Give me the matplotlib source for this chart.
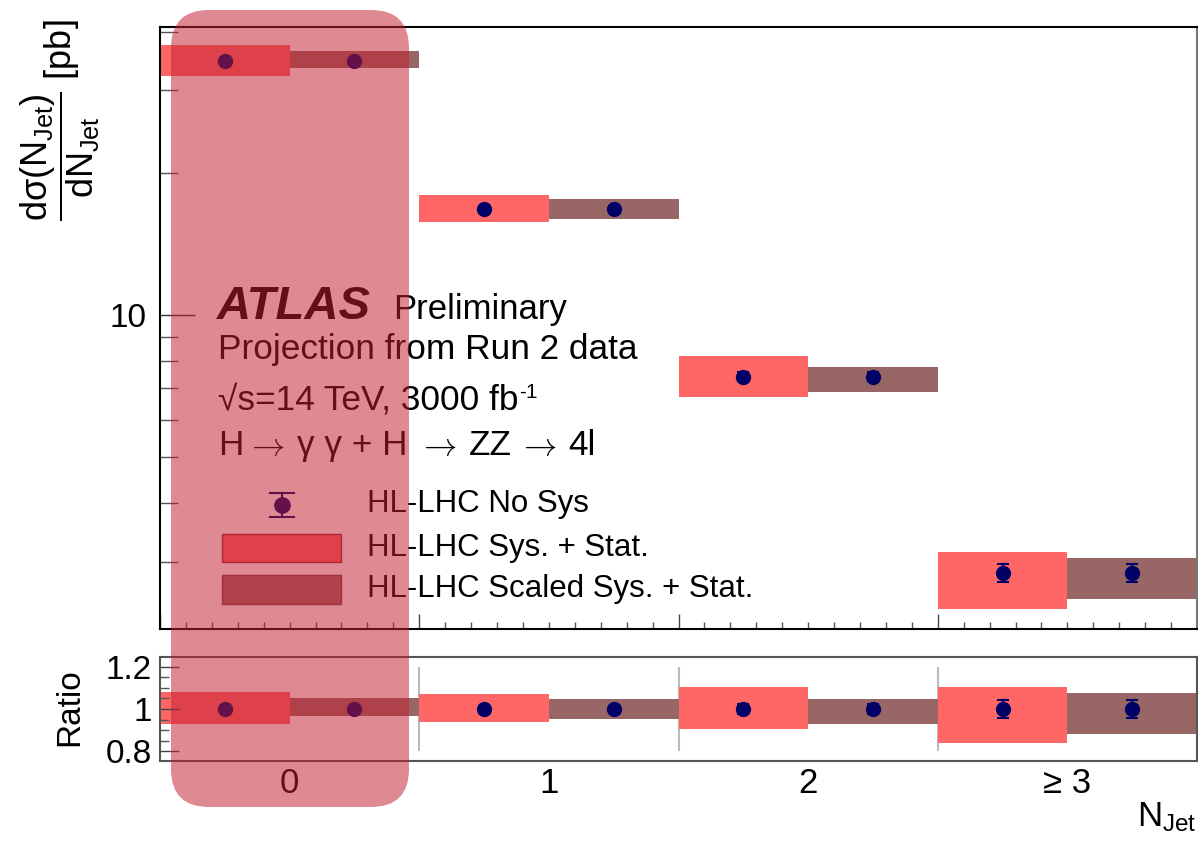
import matplotlib
matplotlib.use('Agg')
import matplotlib.pyplot as plt
import numpy as np
from matplotlib.patches import FancyBboxPatch, Rectangle
from matplotlib.lines import Line2D
from matplotlib.ticker import FixedLocator, MultipleLocator, NullFormatter, FixedFormatter

plt.rcParams['font.family'] = ['Liberation Sans', 'DejaVu Sans']
plt.rcParams['mathtext.fontset'] = 'custom'
plt.rcParams['mathtext.rm'] = 'Liberation Sans'
plt.rcParams['mathtext.it'] = 'Liberation Sans'
plt.rcParams['mathtext.bf'] = 'Liberation Sans:bold'

# ---------------- data ----------------
njet_centers = [0, 1, 2, 3]
njet_labels = ['0', '1', '2', '\u2265 3']
xsec = [34.6, 16.8, 7.40, 2.84]                 # pb
nosys_rel_err = [0.010, 0.015, 0.022, 0.043]
sys_up = [1.081, 1.071, 1.105, 1.105]
sys_dn = [0.929, 0.938, 0.905, 0.838]
scaled_up = [1.052, 1.048, 1.048, 1.076]
scaled_dn = [0.967, 0.952, 0.929, 0.881]

light = '#FF6666'
dark = '#996666'
navy = '#000066'

W, H = 1198, 842
fig = plt.figure(figsize=(W / 100, H / 100), dpi=100)


def axrect(l, t, r, b):
    return [l / W, 1 - b / H, (r - l) / W, (b - t) / H]


ax = fig.add_axes(axrect(160, 27, 1197, 629))
axr = fig.add_axes(axrect(160, 657, 1197, 761))

c = np.array(njet_centers, float)
xs = np.array(xsec)
err = np.array(nosys_rel_err)
su, sd = np.array(sys_up), np.array(sys_dn)
cu, cd = np.array(scaled_up), np.array(scaled_dn)

# ---------------- upper panel ----------------
ax.bar(c - 0.5, xs * (su - sd), bottom=xs * sd, width=0.5, align='edge',
       color=light, lw=0, zorder=1)
ax.bar(c, xs * (cu - cd), bottom=xs * cd, width=0.5, align='edge',
       color=dark, lw=0, zorder=1)
for off in (-0.25, 0.25):
    ax.errorbar(c + off, xs, yerr=xs * err, fmt='o', color=navy, ms=10,
                elinewidth=1.5, capsize=4, capthick=1.5, zorder=3)
ax.set_yscale('log')
ax.set_ylim(2.158, 40.9)
ax.set_xlim(-0.5, 3.5)
ax.yaxis.set_major_locator(FixedLocator([10]))
ax.yaxis.set_major_formatter(FixedFormatter(['10']))
ax.yaxis.set_minor_locator(FixedLocator([3, 4, 5, 6, 7, 8, 9, 20, 30, 40]))
ax.yaxis.set_minor_formatter(NullFormatter())
ax.xaxis.set_major_locator(FixedLocator(list(c - 0.5) + [c[-1] + 0.5]))
ax.xaxis.set_minor_locator(MultipleLocator(0.1))
ax.xaxis.set_major_formatter(NullFormatter())
ax.tick_params(axis='y', which='major', direction='in', length=25, width=1,
               color='#333333', labelsize=24, pad=10, right=False)
ax.tick_params(axis='y', which='minor', direction='in', length=13, width=1,
               color='#555555', right=False)
ax.tick_params(axis='x', which='major', direction='in', length=11, width=1,
               color='#444444', top=False, labelbottom=False)
ax.tick_params(axis='x', which='minor', direction='in', length=5, width=1,
               color='#555555', top=False)
for s in ('left', 'top', 'bottom'):
    ax.spines[s].set_color('black')
    ax.spines[s].set_linewidth(1.5)
ax.spines['right'].set_color('#777777')
ax.spines['right'].set_linewidth(1.5)

# ---------------- ratio panel ----------------
axr.bar(c - 0.5, su - sd, bottom=sd, width=0.5, align='edge', color=light, lw=0, zorder=1)
axr.bar(c, cu - cd, bottom=cd, width=0.5, align='edge', color=dark, lw=0, zorder=1)
ones = np.ones_like(c)
for off in (-0.25, 0.25):
    axr.errorbar(c + off, ones, yerr=err, fmt='o', color=navy, ms=10,
                 elinewidth=1.5, capsize=4, capthick=1.5, zorder=3)
axr.vlines(c[:-1] + 0.5, 0.8, 1.2, color='#BBBBBB', lw=1.5, zorder=0.5)
axr.set_xlim(-0.5, 3.5)
axr.set_ylim(0.7524, 1.2476)
axr.yaxis.set_major_locator(FixedLocator([0.8, 1.0, 1.2]))
axr.yaxis.set_major_formatter(FixedFormatter(['0.8', '1', '1.2']))
axr.yaxis.set_minor_locator(MultipleLocator(0.05))
axr.yaxis.set_minor_formatter(NullFormatter())
axr.set_xticks(c)
axr.set_xticklabels(njet_labels)
axr.tick_params(axis='x', which='both', length=0, labelsize=25, pad=4)
axr.tick_params(axis='y', which='major', direction='in', length=14, width=1,
                color='#444444', labelsize=24, pad=6)
axr.tick_params(axis='y', which='minor', direction='in', length=6.5, width=1,
                color='#555555')
for s in axr.spines.values():
    s.set_color('#555555')
    s.set_linewidth(1.5)

# ---------------- axis titles ----------------
fig.text(60 / W, 1 - 120 / H, r'$\dfrac{d\sigma(N_{Jet})}{dN_{Jet}}$ [pb]',
         rotation=90, ha='center', va='center', fontsize=26)
fig.text(70 / W, 1 - 707 / H, 'Ratio', rotation=90, ha='center', va='center',
         fontsize=24)
fig.text(1196 / W, 1 - 826 / H, r'$N_{Jet}$', ha='right', va='baseline',
         fontsize=25)

# ---------------- overlay layer (pixel coordinates) ----------------
ov = fig.add_axes([0, 0, 1, 1], zorder=10)
ov.set_xlim(0, W)
ov.set_ylim(H, 0)
ov.axis('off')
ov.patch.set_visible(False)

ov.text(217, 319, 'ATLAS', fontsize=34, fontweight='bold', fontstyle='italic',
        va='baseline', ha='left', zorder=2)
ov.text(393, 319, 'Preliminary', fontsize=25, va='baseline', ha='left', zorder=2)
ov.text(218, 359, 'Projection from Run 2 data', fontsize=25.4, va='baseline',
        ha='left', zorder=2)
t_lumi = ov.text(218, 410, '\u221as=14 TeV, 3000 fb', fontsize=25.4,
                 va='baseline', ha='left', zorder=2)

# decay chain line, arrows drawn with the Computer Modern arrow (thin, curved head)
segments = [(218, 'H', False), (246, r'$\rightarrow$', True), (297, '\u03b3 \u03b3 + H', False),
            (418, r'$\rightarrow$', True), (469, 'ZZ', False), (518, r'$\rightarrow$', True),
            (568, '4l', False)]
for x0, s, is_arrow in segments:
    if is_arrow:
        ov.text(x0, 455, s, fontsize=24, math_fontfamily='cm', va='baseline',
                ha='left', zorder=2)
    else:
        ov.text(x0, 455, s, fontsize=25.4, va='baseline', ha='left', zorder=2)

# legend
ov.add_line(Line2D([282, 282], [493, 517], color=navy, lw=1.5, zorder=2))
ov.add_line(Line2D([270, 294], [493, 493], color=navy, lw=1.5, zorder=2))
ov.add_line(Line2D([270, 294], [517, 517], color=navy, lw=1.5, zorder=2))
ov.plot([282], [505], 'o', color=navy, ms=11, zorder=3)
ov.text(367, 512, 'HL-LHC No Sys', fontsize=22.5, va='baseline', ha='left', zorder=2)
ov.add_patch(Rectangle((222, 534), 119, 28, fc=light, ec='#993333', lw=1, zorder=2))
ov.text(367, 556, 'HL-LHC Sys. + Stat.', fontsize=22.5, va='baseline', ha='left', zorder=2)
ov.add_patch(Rectangle((222, 575), 119, 29, fc=dark, ec='#774444', lw=1, zorder=2))
ov.text(367, 597, 'HL-LHC Scaled Sys. + Stat.', fontsize=22.5, va='baseline',
        ha='left', zorder=2)

# highlight box over the 0-jet bin
ov.add_patch(FancyBboxPatch((171, 10), 238, 797,
                            boxstyle='round,pad=0,rounding_size=38',
                            fc=(194 / 255, 31 / 255, 49 / 255), alpha=0.52,
                            ec='none', zorder=10))

# superscript "-1" after "fb"
fig.canvas.draw()
bb = t_lumi.get_window_extent(fig.canvas.get_renderer())
ov.text(bb.x1 + 1, 398, '-1', fontsize=15, va='baseline', ha='left', zorder=2)

fig.savefig('out.png', dpi=100)
